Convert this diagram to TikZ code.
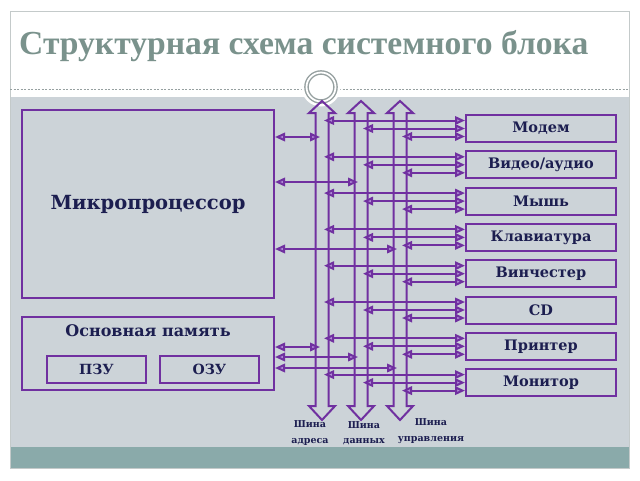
\documentclass[tikz,border=0pt]{standalone}
\usepackage{fontspec}
\setmainfont{Liberation Serif}
\newfontfamily\boxfont{DejaVu Serif}
\usetikzlibrary{arrows.meta,calc}
\definecolor{bgg}{RGB}{204,211,216}
\definecolor{tealc}{RGB}{138,170,170}
\definecolor{framec}{RGB}{196,202,202}
\definecolor{pur}{RGB}{112,48,160}
\definecolor{lav}{RGB}{176,140,214}
\definecolor{navy}{RGB}{28,30,80}
\definecolor{titlec}{RGB}{122,146,140}
\definecolor{ringc}{RGB}{150,160,160}
\begin{document}
\begin{tikzpicture}[x=1pt,y=-1pt,
  box/.style={draw=pur,line width=2pt,inner sep=0pt,text=navy,font=\boxfont\bfseries},
  dev/.style={box,minimum width=150pt,minimum height=27pt,font=\boxfont\fontsize{14.5}{16}\selectfont\bfseries},
  mem/.style={box,minimum width=99pt,minimum height=27pt,font=\boxfont\fontsize{14}{16}\selectfont\bfseries},
  lbl/.style={text=navy,inner sep=0pt,font=\boxfont\bfseries},
  buslbl/.style={text=navy,inner sep=0pt,align=center,font=\boxfont\fontsize{9.5}{15.5}\selectfont\bfseries},
  bus/.style={draw=pur,line width=2pt,line join=miter},
  conn/.style={draw=pur,line width=2pt,{Triangle[length=10pt,width=8.5pt,fill=lav]}-{Triangle[length=10pt,width=8.5pt,fill=lav]}}
]
\useasboundingbox (0,0) rectangle (640,480);
\fill[white] (0,0) rectangle (640,480);
% slide background
\fill[bgg] (10,97) rectangle (629,447);
\fill[tealc] (10,447) rectangle (629,468);
\draw[framec,line width=1pt] (10,11) rectangle (629,468);
\draw[ringc,line width=0.7pt,dash pattern=on 2pt off 1.5pt] (10,89) -- (629,89);
\fill[white] (321,87) circle (19.5pt);
\draw[ringc,line width=1.4pt,double=white,double distance=1.8pt] (321,87) circle (14.5pt);
% title
\node[text=titlec,anchor=base west,inner sep=0pt,font=\fontsize{33.6}{40}\selectfont\bfseries] (title) at (19,54) {Структурная схема системного блока};
% boxes
\node[box,minimum width=252pt,minimum height=188pt,font=\boxfont\fontsize{19.5}{24}\selectfont\bfseries] (cpu) at (148,204) {Микропроцессор};
\node[box,minimum width=252pt,minimum height=73pt] (mem) at (148,353.5) {};
\node[lbl,font=\boxfont\fontsize{16}{20}\selectfont\bfseries] (memt) at (148,331) {Основная память};
\node[mem] (rom) at (96.5,369.5) {ПЗУ};
\node[mem] (ram) at (209.5,369.5) {ОЗУ};
\foreach \t [count=\i from 0] in {Модем,Видео/аудио,Мышь,Клавиатура,Винчестер,CD,Принтер,Монитор}
  \node[dev] (d\i) at (541,{128.5+36.3*\i}) {\t};
% buses
\foreach \X/\n in {322/1,361/2,400/3}
  \draw[bus] (\X,101) -- ({\X+13},113) -- ({\X+6.5},113) -- ({\X+6.5},406) -- ({\X+13},406) -- (\X,420)
     -- ({\X-13},406) -- ({\X-6.5},406) -- ({\X-6.5},113) -- ({\X-13},113) -- cycle;
\coordinate (r1) at (324,0);
\coordinate (r2) at (363,0);
\coordinate (r3) at (402,0);
\coordinate (k1) at (320,137);
\coordinate (k2) at (358,182);
\coordinate (k3) at (397,249);
\coordinate (m1) at (320,347);
\coordinate (m2) at (358,357);
\coordinate (m3) at (397,368);
% connectors
\foreach \k in {1,2,3} \draw[conn] (cpu.east |- k\k) -- (k\k);
\foreach \k in {1,2,3} \draw[conn] (mem.east |- m\k) -- (m\k);
\foreach \i in {0,...,7} {
  \coordinate (pa) at ($(d\i.west)+(0,-8)$);
  \coordinate (pb) at (d\i.west);
  \coordinate (pc) at ($(d\i.west)+(0,8)$);
  \draw[conn] (pa) -- (pa -| r1);
  \draw[conn] (pb) -- (pb -| r2);
  \draw[conn] (pc) -- (pc -| r3);
}
% bus labels
\node[buslbl] (l1) at (310,433) {Шина\\адреса};
\node[buslbl] (l2) at (364,433) {Шина\\данных};
\node[buslbl] (l3) at (431,431) {Шина\\управления};
\end{tikzpicture}
\end{document}
